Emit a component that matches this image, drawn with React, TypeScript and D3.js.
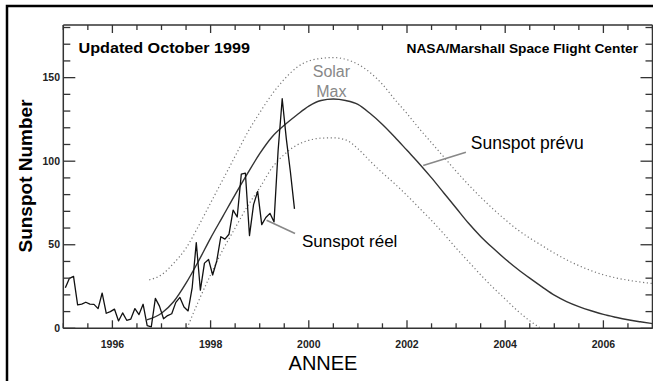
import React from "react";
import * as d3 from "d3";

// ---- Data ----
const actualStartYear = 1995;
const actualMonthly: number[] = [
  24.2, 29.9, 31.1, 14.0, 14.5, 15.6, 14.5, 14.3, 11.8, 21.1, 9.0, 10.0,
  11.5, 4.4, 9.2, 4.8, 5.5, 11.8, 8.2, 14.4, 1.6, 0.9, 17.9, 13.3,
  5.7, 7.6, 8.7, 15.5, 18.5, 12.7, 10.4, 24.4, 51.3, 22.8, 39.0, 41.2,
  31.9, 40.3, 54.8, 53.4, 56.3, 70.7, 66.6, 92.2, 92.9, 55.5, 74.0, 81.9,
  62.0, 66.3, 68.8, 63.7, 106.4, 137.4, 113.5, 93.7, 71.5,
];

const predYears = [
  1996.7, 1997.0, 1997.25, 1997.5, 1997.75, 1998.0, 1998.25, 1998.5, 1998.75,
  1999.0, 1999.25, 1999.5, 1999.75, 2000.0, 2000.25, 2000.5, 2000.75, 2001.0,
  2001.25, 2001.5, 2001.75, 2002.0, 2002.25, 2002.5, 2002.75, 2003.0, 2003.25,
  2003.5, 2003.75, 2004.0, 2004.25, 2004.5, 2004.75, 2005.0, 2005.25, 2005.5,
  2005.75, 2006.0, 2006.25, 2006.5, 2006.75, 2007.0,
];
const predValues = [
  5, 9, 16, 27, 40, 54, 67, 80, 92.5,
  104.5, 114.5, 121.5, 127.5, 133, 136.3, 137.2, 136.3, 134,
  128.5, 122, 114.5, 106.5, 98.5, 90, 81, 72, 63,
  55, 48, 41.5, 35.5, 30, 24.8, 19.8, 16, 13,
  10.5, 8.3, 6.6, 5.1, 3.9, 2.8,
];

const highYears = [
  1996.75, 1997.0, 1997.25, 1997.5, 1997.75, 1998.0, 1998.25, 1998.5, 1998.75,
  1999.0, 1999.25, 1999.5, 1999.75, 2000.0, 2000.25, 2000.5, 2000.75, 2001.0,
  2001.25, 2001.5, 2001.75, 2002.0, 2002.25, 2002.5, 2002.75, 2003.0, 2003.25,
  2003.5, 2003.75, 2004.0, 2004.25, 2004.5, 2004.75, 2005.0, 2005.25, 2005.5,
  2005.75, 2006.0, 2006.25, 2006.5, 2006.75, 2007.0,
];
const highValues = [
  29, 32, 39, 48, 61, 75, 89, 103, 117,
  129, 140, 149, 156, 160, 161.5, 162, 161, 158,
  153, 146, 137, 128.5, 119.5, 111, 102.5, 94, 86,
  78.5, 71.5, 65, 59, 54, 49.5, 45, 41, 37.5,
  34.5, 32, 30.2, 28.8, 27.7, 26.8,
];

const lowYears = [
  1997.52, 1997.75, 1998.0, 1998.25, 1998.5, 1998.75, 1999.0, 1999.25, 1999.5,
  1999.75, 2000.0, 2000.25, 2000.5, 2000.75, 2001.0, 2001.25, 2001.5, 2001.75,
  2002.0, 2002.25, 2002.5, 2002.75, 2003.0, 2003.25, 2003.5, 2003.75, 2004.0,
  2004.25, 2004.5, 2004.7,
];
const lowValues = [
  0, 16, 32, 47, 60, 73, 84, 96, 104,
  109.5, 112.5, 113.8, 114, 112.8, 107.5, 100, 93, 86.5,
  79.5, 72, 64.5, 56.5, 48, 40, 32, 24.5, 17.5,
  10.5, 4.5, 0.5,
];

const xTickLabels = ["1996", "1998", "2000", "2002", "2004", "2006"];
const yTickLabels = ["0", "50", "100", "150"];

// ---- Layout ----
const W = 653;
const H = 381;
const x = d3.scaleLinear().domain([1995, 2007]).range([63.3, 652.5]);
const y = d3.scaleLinear().domain([0, 181.5]).range([328.3, 25]);

export default function App() {
  const actualPts: [number, number][] = actualMonthly.map((v, i) => [
    actualStartYear + (i + 0.5) / 12,
    v,
  ]);
  const line = d3
    .line<[number, number]>()
    .x((d) => x(d[0]))
    .y((d) => y(d[1]));
  const smooth = d3
    .line<[number, number]>()
    .x((d) => x(d[0]))
    .y((d) => y(d[1]))
    .curve(d3.curveMonotoneX);

  const pred = predYears.map((t, i) => [t, predValues[i]] as [number, number]);
  const high = highYears.map((t, i) => [t, highValues[i]] as [number, number]);
  const low = lowYears.map((t, i) => [t, lowValues[i]] as [number, number]);

  const [x0, x1] = x.range();
  const [yb, yt] = y.range();

  const xMinor = d3.range(1995, 2007.01, 0.5);
  const yMinor = d3.range(0, 181, 10);

  const axisColor = "#333";
  const tickFont = "Liberation Sans, Arial, sans-serif";

  return (
    <svg
      width={W}
      height={H}
      style={{ position: "absolute", left: 0, top: 0, background: "#fff" }}
      fontFamily={tickFont}
    >
      <rect x={0} y={0} width={W} height={H} fill="#fff" />
      {/* outer frame */}
      <rect x={7} y={6} width={W + 20} height={H + 20} fill="none" stroke="#000" strokeWidth={2.5} />

      {/* confidence bounds */}
      <path d={smooth(high) || ""} fill="none" stroke="#777" strokeWidth={1.2} strokeDasharray="1.2,2.6" />
      <path d={smooth(low) || ""} fill="none" stroke="#777" strokeWidth={1.2} strokeDasharray="1.2,2.6" />
      {/* predicted */}
      <path d={smooth(pred) || ""} fill="none" stroke="#333" strokeWidth={1.4} />
      {/* actual */}
      <path d={line(actualPts) || ""} fill="none" stroke="#111" strokeWidth={1.3} strokeLinejoin="round" />

      {/* axes frame */}
      <line x1={x0} x2={x1} y1={yb} y2={yb} stroke={axisColor} strokeWidth={1.5} />
      <line x1={x0} x2={x1} y1={yt} y2={yt} stroke={axisColor} strokeWidth={1.5} />
      <line x1={x0} x2={x0} y1={yt} y2={yb} stroke={axisColor} strokeWidth={1.5} />
      <line x1={x1} x2={x1} y1={yt} y2={yb} stroke={axisColor} strokeWidth={1.5} />

      {/* x ticks */}
      {xMinor.map((t) => {
        const major = Math.abs(t - Math.round(t / 2) * 2) < 1e-6;
        const len = major ? 8 : 5;
        return (
          <g key={"xt" + t}>
            <line x1={x(t)} x2={x(t)} y1={yb} y2={yb - len} stroke={axisColor} strokeWidth={1.3} />
            <line x1={x(t)} x2={x(t)} y1={yt} y2={yt + len} stroke={axisColor} strokeWidth={1.3} />
          </g>
        );
      })}
      {xTickLabels.map((s) => (
        <text key={"xl" + s} x={x(+s)} y={347.5} textAnchor="middle" fontSize={10.5} fontWeight="bold" fill="#222">
          {s}
        </text>
      ))}

      {/* y ticks */}
      {yMinor.map((v) => {
        const major = v % 50 === 0;
        const len = major ? 12 : 7;
        return (
          <g key={"yt" + v}>
            <line x1={x0} x2={x0 + len} y1={y(v)} y2={y(v)} stroke={axisColor} strokeWidth={1.3} />
            <line x1={x1} x2={x1 - len} y1={y(v)} y2={y(v)} stroke={axisColor} strokeWidth={1.3} />
          </g>
        );
      })}
      {yTickLabels.map((s) => (
        <text key={"yl" + s} x={60} y={y(+s) + 3.5} textAnchor="end" fontSize={10.5} fontWeight="bold" fill="#222">
          {s}
        </text>
      ))}

      {/* titles */}
      <text x={78.5} y={53.3} fontSize={15} fontWeight="bold" textLength={171.5} lengthAdjust="spacingAndGlyphs" fill="#000">
        Updated October 1999
      </text>
      <text x={638} y={52.7} fontSize={13.5} fontWeight="bold" textAnchor="end" textLength={231.5} lengthAdjust="spacingAndGlyphs" fill="#000">
        NASA/Marshall Space Flight Center
      </text>
      <text
        transform={`translate(32,176) rotate(-90)`}
        textAnchor="middle"
        fontSize={19}
        fontWeight="bold"
        fill="#000"
      >
        Sunspot Number
      </text>
      <text x={323} y={370} textAnchor="middle" fontSize={20} fill="#000">
        ANNEE
      </text>

      {/* Solar Max */}
      <text x={x(2000.46)} y={y(150.3)} textAnchor="middle" fontSize={16} fill="#888">
        Solar
      </text>
      <text x={x(2000.46)} y={y(138.3)} textAnchor="middle" fontSize={16} fill="#888">
        Max
      </text>

      {/* annotations */}
      <line x1={x(2002.33)} y1={y(97.4)} x2={x(2003.2)} y2={y(105.4)} stroke="#888" strokeWidth={1.6} />
      <text x={x(2003.3)} y={y(107.2)} fontSize={17.5} fill="#000">
        Sunspot prévu
      </text>
      <line x1={x(1999.14)} y1={y(64.7)} x2={x(1999.72)} y2={y(56.7)} stroke="#888" strokeWidth={1.6} />
      <text x={x(1999.86)} y={y(48.5)} fontSize={17} fill="#000">
        Sunspot réel
      </text>
    </svg>
  );
}
